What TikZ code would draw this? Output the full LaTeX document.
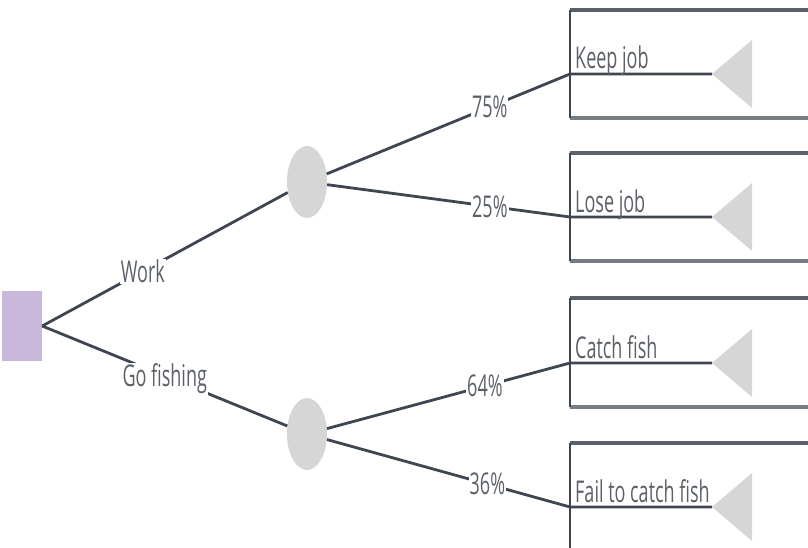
\documentclass[tikz,border=0pt]{standalone}
\usepackage{fontspec}
\setmainfont{Open Sans}[FakeStretch=0.6]
\usetikzlibrary{shapes.geometric}
\definecolor{lineC}{HTML}{3E4652}
\definecolor{txtC}{HTML}{5C6168}
\definecolor{chanceC}{HTML}{D6D6D6}
\definecolor{decC}{HTML}{C9B8DC}
\definecolor{boxTop}{HTML}{5A616B}
\definecolor{boxBot}{HTML}{767C84}
\begin{document}
\begin{tikzpicture}[x=1pt,y=-1pt,
  font=\fontsize{30}{33}\selectfont,
  branch/.style={draw=lineC,line width=2.8pt},
  lab/.style={fill=white,text=txtC,inner sep=1pt},
  chance/.style={ellipse,fill=chanceC,minimum width=40pt,minimum height=72pt,inner sep=0pt},
  decision/.style={rectangle,fill=decC,minimum width=40pt,minimum height=70pt,inner sep=0pt},
  outlab/.style={anchor=base west,text=txtC,inner sep=0pt},
  endtri/.style={fill=chanceC},
  outbox/.style={draw=boxTop,line width=3.4pt},
  outleft/.style={draw=lineC,line width=2.2pt}]
\useasboundingbox (0,0) rectangle (808,548);
\clip (0,0) rectangle (808,548);

% decision and chance nodes
\node[decision] (d) at (22,326) {};
\node[chance] (c1) at (307,182) {};
\node[chance] (c2) at (307,434) {};

% outcome boxes
\foreach \i/\top/\bot in {1/10/118, 2/153/261, 3/298/407, 4/443/575}{
  \draw[outbox] (570,\top) -- (830,\top);
  \draw[draw=boxBot,line width=3.4pt] (570,\bot) -- (830,\bot);
  \draw[outleft] (570,\top) -- (570,\bot);
}

% box entry points and triangle tips
\coordinate (k1) at (570,74);
\coordinate (k2) at (570,217);
\coordinate (k3) at (570,363);
\coordinate (k4) at (570,507);
\coordinate (t1) at (712,74);
\coordinate (t2) at (712,217);
\coordinate (t3) at (712,363);
\coordinate (t4) at (712,507);

\foreach \t in {t1,t2,t3,t4}{
  \fill[endtri] (\t) -- ++(40,-34) -- ++(0,68) -- cycle;
}

% branches
\draw[branch] (d.east) -- node[lab,pos=0.41] {Work} (c1);
\draw[branch] (d.east) -- node[lab,pos=0.5,yshift=-3pt] {Go fishing} (c2);
\draw[branch] (c1) -- node[lab,pos=0.67] {75\%} (k1) -- (t1);
\draw[branch] (c1) -- node[lab,pos=0.67] {25\%} (k2) -- (t2);
\draw[branch] (c2) -- node[lab,pos=0.65] {64\%} (k3) -- (t3);
\draw[branch] (c2) -- node[lab,pos=0.66] {36\%} (k4) -- (t4);

% outcome labels
\node[outlab] (o1) at (575,69) {Keep job};
\node[outlab] (o2) at (575,212) {Lose job};
\node[outlab] (o3) at (575,358) {Catch fish};
\node[outlab] (o4) at (575,502) {Fail to catch fish};
\end{tikzpicture}
\end{document}
